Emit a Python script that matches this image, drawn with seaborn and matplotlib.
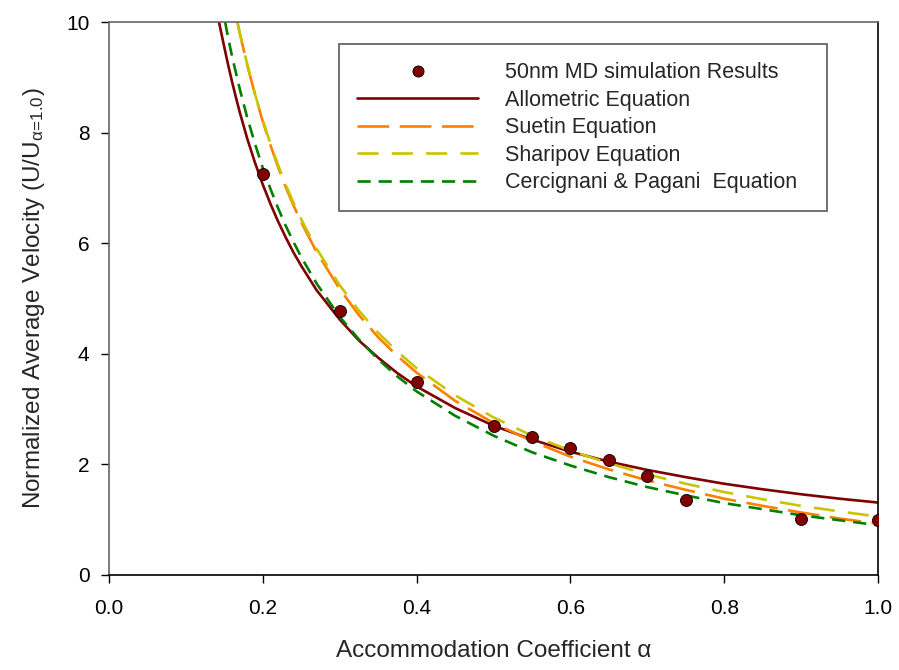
import matplotlib
matplotlib.use("Agg")
import matplotlib.pyplot as plt
from matplotlib.lines import Line2D
import seaborn as sns
import pandas as pd

# ---- data ----
md_alpha = [0.2, 0.3, 0.4, 0.5, 0.55, 0.6, 0.65, 0.7, 0.75, 0.9, 1.0]
md_vel = [7.25, 4.77, 3.49, 2.69, 2.50, 2.30, 2.08, 1.79, 1.35, 1.02, 1.00]

allo_alpha = [0.143, 0.15, 0.155, 0.16, 0.165, 0.17, 0.18, 0.19, 0.2, 0.21, 0.22, 0.23,
              0.24, 0.25, 0.27, 0.3, 0.325, 0.35, 0.375, 0.4, 0.45,
              0.5, 0.55, 0.6, 0.65, 0.7, 0.75, 0.8, 0.85, 0.9, 0.95, 1.0]
allo_vel = [10.0, 9.54, 9.22, 8.92, 8.64, 8.37, 7.88, 7.45, 7.06, 6.71, 6.39, 6.10,
            5.83, 5.59, 5.15, 4.62, 4.24, 3.93, 3.65, 3.41, 3.02,
            2.70, 2.45, 2.23, 2.05, 1.90, 1.77, 1.65, 1.55, 1.46, 1.38, 1.31]

suetin_alpha = [0.167, 0.17, 0.18, 0.19, 0.2, 0.21, 0.22, 0.23, 0.24, 0.25, 0.27, 0.3,
                0.325, 0.35, 0.375, 0.4, 0.45, 0.5,
                0.55, 0.6, 0.65, 0.7, 0.75, 0.8, 0.85, 0.9, 0.95, 1.0]
suetin_vel = [10.0, 9.80, 9.21, 8.68, 8.20, 7.77, 7.37, 7.01, 6.68, 6.38, 5.84, 5.17,
              4.70, 4.30, 3.96, 3.66, 3.15, 2.75,
              2.42, 2.14, 1.91, 1.71, 1.54, 1.38, 1.25, 1.13, 1.02, 0.93]

sharipov_alpha = [0.167, 0.17, 0.18, 0.19, 0.2, 0.21, 0.22, 0.23, 0.24, 0.25, 0.27, 0.3,
                  0.325, 0.35, 0.375, 0.4, 0.45, 0.5,
                  0.55, 0.6, 0.65, 0.7, 0.75, 0.8, 0.85, 0.9, 0.95, 1.0]
sharipov_vel = [10.0, 9.80, 9.22, 8.69, 8.22, 7.80, 7.41, 7.05, 6.73, 6.43, 5.90, 5.24,
                4.78, 4.38, 4.04, 3.74, 3.25, 2.85,
                2.52, 2.25, 2.02, 1.82, 1.65, 1.50, 1.37, 1.25, 1.15, 1.055]

cp_alpha = [0.151, 0.155, 0.16, 0.17, 0.18, 0.19, 0.2, 0.21, 0.22, 0.23, 0.24, 0.25, 0.27,
            0.3, 0.325, 0.35, 0.375, 0.4, 0.45, 0.5,
            0.55, 0.6, 0.65, 0.7, 0.75, 0.8, 0.85, 0.9, 0.95, 1.0]
cp_vel = [10.0, 9.71, 9.38, 8.79, 8.26, 7.79, 7.36, 6.98, 6.63, 6.31, 6.02, 5.75, 5.27,
          4.67, 4.26, 3.90, 3.59, 3.32, 2.88, 2.52,
          2.22, 1.98, 1.77, 1.59, 1.44, 1.30, 1.19, 1.08, 0.99, 0.90]

labels = ["50nm MD simulation Results", "Allometric Equation", "Suetin Equation",
          "Sharipov Equation", "Cercignani & Pagani  Equation"]

# ---- styling ----
sns.set_theme(style="ticks")
plt.rcParams["font.family"] = ["Liberation Sans", "DejaVu Sans"]
plt.rcParams["mathtext.fontset"] = "custom"
plt.rcParams["mathtext.rm"] = "Liberation Sans"
plt.rcParams["mathtext.it"] = "Liberation Sans"

colors = {labels[1]: "#800000", labels[2]: "#FF8000",
          labels[3]: "#C8C400", labels[4]: "#008000"}
dashes = {labels[1]: "", labels[2]: (12, 4), labels[3]: (8, 5), labels[4]: (5, 3)}

frames = []
for name, xs, ys in [(labels[1], allo_alpha, allo_vel),
                     (labels[2], suetin_alpha, suetin_vel),
                     (labels[3], sharipov_alpha, sharipov_vel),
                     (labels[4], cp_alpha, cp_vel)]:
    frames.append(pd.DataFrame({"alpha": xs, "vel": ys, "series": name}))
curves = pd.concat(frames, ignore_index=True)
md = pd.DataFrame({"alpha": md_alpha, "vel": md_vel})

fig = plt.figure(figsize=(8.99, 6.70), dpi=100)
ax = fig.add_axes([109 / 899, 1 - 575 / 670, (878 - 109) / 899, (575 - 22) / 670])

sns.lineplot(data=curves, x="alpha", y="vel", hue="series", style="series",
             palette=colors, dashes=dashes, linewidth=1.9, sort=False,
             errorbar=None, legend=False, ax=ax)
sns.scatterplot(data=md, x="alpha", y="vel", color="#800000", edgecolor="black",
                linewidth=0.6, s=75, zorder=5, legend=False, ax=ax)

ax.set_xlim(0, 1.0)
ax.set_ylim(0, 10)
ax.set_xticks([0.0, 0.2, 0.4, 0.6, 0.8, 1.0])
ax.set_xticklabels(["0.0", "0.2", "0.4", "0.6", "0.8", "1.0"])
ax.set_yticks([0, 2, 4, 6, 8, 10])
ax.set_yticklabels(["0", "2", "4", "6", "8", "10"])
ax.tick_params(axis="both", direction="out", length=6, width=1.0, labelsize=15,
               colors="black", pad=8)
ax.tick_params(axis="x", pad=11)
for side in ["left", "top"]:
    ax.spines[side].set_color("#666666")
for side in ["right", "bottom"]:
    ax.spines[side].set_color("black")
for sp in ax.spines.values():
    sp.set_linewidth(1.2)
    sp.set_visible(True)

ax.set_xlabel("Accommodation Coefficient α", fontsize=17.5, labelpad=16)
ax.set_ylabel(r"Normalized Average Velocity (U/U$_{\mathrm{α\!=\!1.0}}$)",
              fontsize=17.5, labelpad=14)

handles = [
    Line2D([], [], linestyle="none", marker="o", markersize=8,
           markerfacecolor="#800000", markeredgecolor="black", markeredgewidth=0.6),
    Line2D([], [], color=colors[labels[1]], linewidth=1.9),
    Line2D([], [], color=colors[labels[2]], linewidth=1.9, dashes=dashes[labels[2]]),
    Line2D([], [], color=colors[labels[3]], linewidth=1.9, dashes=dashes[labels[3]]),
    Line2D([], [], color=colors[labels[4]], linewidth=1.9, dashes=dashes[labels[4]]),
]
leg = fig.legend(handles, labels, loc="upper left",
                 bbox_to_anchor=(339 / 899, 0.691, (827 - 339) / 899, 1 - 44 / 670 - 0.691),
                 bbox_transform=fig.transFigure, mode="expand",
                 fontsize=15.5, handlelength=5.6, handletextpad=1.25,
                 labelspacing=0.3, borderpad=0.85, borderaxespad=0,
                 fancybox=False, framealpha=1, edgecolor="#666666")
leg.get_frame().set_linewidth(1.3)

fig.savefig("out.png", dpi=100)
